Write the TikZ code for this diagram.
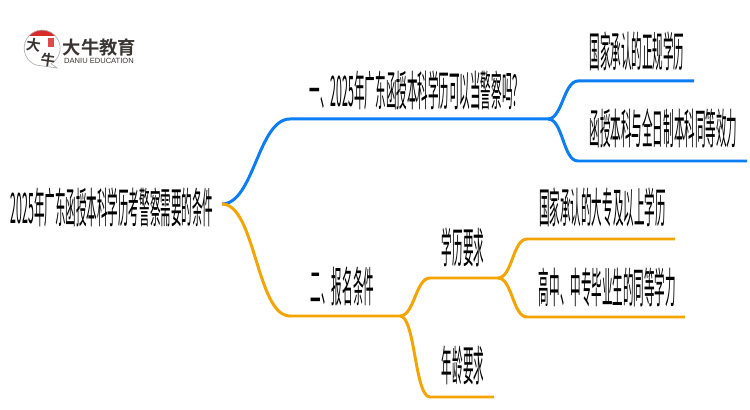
\documentclass[tikz,border=0pt]{standalone}
\usepackage{fontspec}
\newfontfamily\cjk{Noto Sans CJK SC}
\newfontfamily\cjkbold{Noto Sans CJK SC Bold}
\setsansfont{Liberation Sans}
\definecolor{bluewire}{HTML}{0B7DF5}
\definecolor{orangewire}{HTML}{F4A403}
\definecolor{logoink}{HTML}{3A3533}
\definecolor{logored}{HTML}{D92B2B}
\tikzset{
	leaf/.style={font=\fontsize{24}{24}\cjk, text=black, inner sep=0pt, xscale=.25, transform shape},
	bluew/.style={draw=bluewire, line width=1.7pt},
	orangew/.style={draw=orangewire, line width=1.7pt},
	logotext/.style={font=\fontsize{8.2}{8.2}\cjkbold, text=logoink, inner sep=0pt, rotate=-8},
}
\begin{document}
\begin{tikzpicture}
	 		\useasboundingbox (0,0) rectangle (15,8.2);

	 		\node[leaf](root) at(2.24, 4.05){2025年广东函授本科学历考警察需要的条件};
	 		\node[leaf](edu) at(8.33, 6.4){一、2025年广东函授本科学历可以当警察吗？};
	 		\node[leaf](norm) at(12.74, 7.18){国家承认的正规学历};
	 		\node[leaf](equal) at(13.27, 5.64){函授本科与全日制本科同等效力};
	 		\node[leaf](cond) at(6.85, 2.48){二、报名条件};
	 		\node[leaf](degree) at(9.26, 3.26){学历要求};
	 		\node[leaf](college) at(12.05, 4.06){国家承认的大专及以上学历};
	 		\node[leaf](school) at(12.15, 2.46){高中、中专毕业生的同等学力};
	 		\node[leaf](age) at(9.26, .9){年龄要求};

	 		\coordinate(start) at(4.44, 4.12);
	 		\coordinate(eduA) at(5.8, 5.82);
	 		\coordinate(eduB) at(10.96, 5.82);
	 		\coordinate(normA) at(11.56, 6.58);
	 		\coordinate(normB) at(13.88, 6.58);
	 		\coordinate(equalA) at(11.56, 4.98);
	 		\coordinate(equalB) at(14.94, 4.98);
	 		\coordinate(condA) at(5.8, 1.88);
	 		\coordinate(condB) at(8, 1.88);
	 		\coordinate(degreeA) at(8.6, 2.64);
	 		\coordinate(degreeB) at(9.96, 2.64);
	 		\coordinate(collegeA) at(10.54, 3.42);
	 		\coordinate(collegeB) at(13.5, 3.42);
	 		\coordinate(schoolA) at(10.54, 1.86);
	 		\coordinate(schoolB) at(13.7, 1.86);
	 		\coordinate(ageA) at(8.6, .26);
	 		\coordinate(ageB) at(9.88, .26);

	 		\draw[bluew](start) to[out=0, in=180, looseness=.75] (eduA) to (eduB);
	 			\draw[bluew](eduB) to[out=0, in=180, looseness=.75] (normA) to (normB);
	 			\draw[bluew](eduB) to[out=0, in=180, looseness=.75] (equalA) to (equalB);
	 		\draw[orangew](start) to[out=0, in=180, looseness=.65] (condA) to (condB);
	 			\draw[orangew](condB) to[out=0, in=180, looseness=.75] (degreeA) to (degreeB);
	 				\draw[orangew](degreeB) to[out=0, in=180, looseness=.75] (collegeA) to (collegeB);
	 				\draw[orangew](degreeB) to[out=0, in=180, looseness=.75] (schoolA) to (schoolB);
	 			\draw[orangew](condB) to[out=0, in=180, looseness=.45] (ageA) to (ageB);

	 		\coordinate(logo) at(.84, 7.24);
	 		\begin{scope}
	 			\clip (logo) circle (.36);
	 			\fill[logored] (.4, 7.48) rectangle (1.3, 7.7);
	 		\end{scope}
	 		\draw[gray!60, line width=.4pt] (.72, 6.9) arc (250:-60:.36) to (1.14, 6.84) to cycle;
	 		\fill[logored!85] (.95, 7.26) rectangle (1.07, 7.44);
	 		\node[logotext](logoA) at(.67, 7.3){大};
	 		\node[logotext](logoB) at(.96, 7.0){牛};
	 		\node[font=\fontsize{10.4}{10.4}\cjkbold, text=logoink, inner sep=0pt](brand) at(1.99, 7.26){大牛教育};
	 		\node[font=\fontsize{4.3}{4.3}\sffamily, text=logoink, inner sep=0pt](brandsub) at(1.98, 6.99){DANIU EDUCATION};
\end{tikzpicture}
\end{document}
